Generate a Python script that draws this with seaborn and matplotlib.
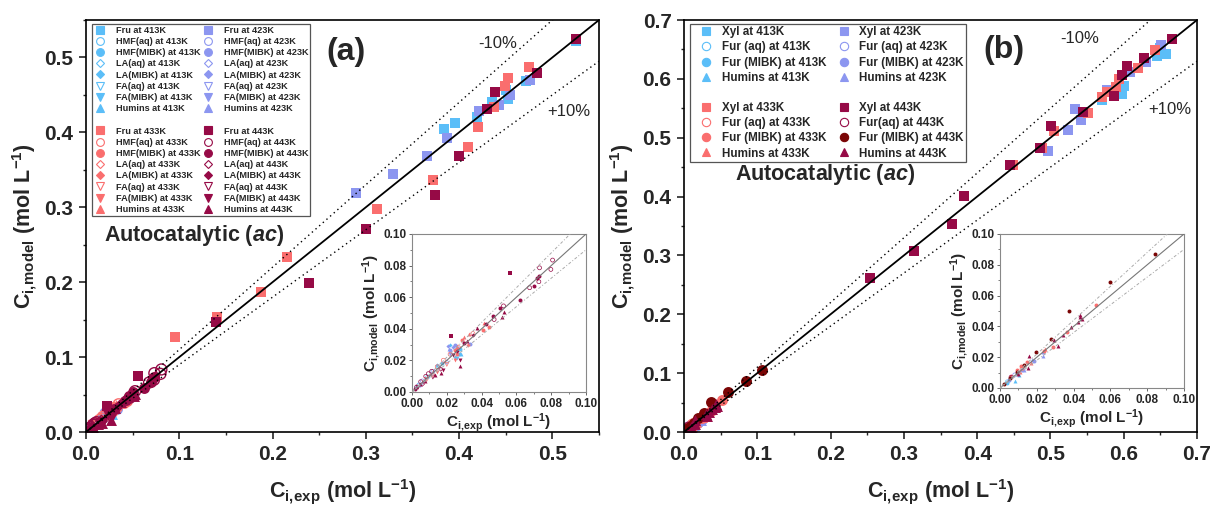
import numpy as np
import pandas as pd
import matplotlib
matplotlib.use("Agg")
import matplotlib.pyplot as plt
from matplotlib.lines import Line2D
from matplotlib.ticker import MultipleLocator, FormatStrFormatter
import seaborn as sns

# ---------------- data: (C_exp, C_model) pairs ----------------
TEMPS = ["413K", "423K", "433K", "443K"]
COLORS = {"413K": "#5BBEF8", "423K": "#8C96F0", "433K": "#FA6E6E", "443K": "#960A46"}
FUR_MIBK_443_COLOR = "#7A0505"

# Panel (a) - fructose system
a_fru_413 = [(0.525, 0.522), (0.472, 0.468), (0.452, 0.445), (0.450, 0.456), (0.435, 0.441),
             (0.419, 0.421), (0.384, 0.405), (0.396, 0.412)]
a_fru_423 = [(0.476, 0.470), (0.443, 0.436), (0.421, 0.428), (0.387, 0.392), (0.366, 0.369),
             (0.329, 0.345), (0.290, 0.319), (0.455, 0.450)]
a_fru_433 = [(0.475, 0.487), (0.452, 0.472), (0.449, 0.462), (0.437, 0.434), (0.420, 0.407),
             (0.410, 0.381), (0.372, 0.336), (0.312, 0.298), (0.216, 0.234), (0.188, 0.187),
             (0.140, 0.154), (0.095, 0.127)]
a_fru_443 = [(0.525, 0.525), (0.484, 0.479), (0.438, 0.454), (0.430, 0.431), (0.400, 0.369),
             (0.374, 0.317), (0.300, 0.271), (0.239, 0.199), (0.139, 0.147), (0.0562, 0.0751),
             (0.0223, 0.0353)]
a_hmfaq_413 = [(0.004, 0.0045), (0.009, 0.0095)]
a_hmfaq_423 = [(0.012, 0.013), (0.006, 0.007)]
a_hmfaq_433 = [(0.0219, 0.0239), (0.018, 0.0201), (0.035, 0.037), (0.0145, 0.016)]
a_hmfaq_443 = [(0.0808, 0.0835), (0.0798, 0.0776), (0.0733, 0.0786), (0.0729, 0.0698),
               (0.0676, 0.066), (0.0526, 0.0545), (0.0472, 0.0459), (0.0079, 0.0099),
               (0.0094, 0.0116), (0.0113, 0.0131), (0.0027, 0.0032), (0.005, 0.0065)]
a_hmfmibk_413 = [(0.0269, 0.0243), (0.0273, 0.0275), (0.0171, 0.0184)]
a_hmfmibk_423 = [(0.0334, 0.0302), (0.0248, 0.0300), (0.0219, 0.0264)]
a_hmfmibk_433 = [(0.041, 0.0391), (0.044, 0.0412), (0.0286, 0.0328), (0.0257, 0.0243),
                 (0.0248, 0.0264)]
a_hmfmibk_443 = [(0.0731, 0.0734), (0.0718, 0.0719), (0.0699, 0.067), (0.0622, 0.0581),
                 (0.0507, 0.0529), (0.0464, 0.048), (0.0426, 0.0429), (0.030, 0.031),
                 (0.002, 0.002)]
a_laaq_413 = [(0.015, 0.016)]
a_laaq_423 = [(0.020, 0.019)]
a_laaq_433 = [(0.0267, 0.0285), (0.012, 0.011)]
a_laaq_443 = [(0.0165, 0.0145), (0.006, 0.005)]
a_lamibk_413 = [(0.0219, 0.0296), (0.0248, 0.0222), (0.0142, 0.0169)]
a_lamibk_423 = [(0.0209, 0.0292), (0.0238, 0.0285)]
a_lamibk_433 = [(0.032, 0.030)]
a_lamibk_443 = [(0.035, 0.036), (0.026, 0.026)]
a_faaq_413 = [(0.0025, 0.002)]
a_faaq_423 = [(0.005, 0.0042)]
a_faaq_433 = [(0.0085, 0.008), (0.020, 0.0175)]
a_faaq_443 = [(0.0035, 0.003), (0.012, 0.0095)]
a_famibk_413 = [(0.026, 0.0215)]
a_famibk_423 = [(0.022, 0.024)]
a_famibk_433 = [(0.0248, 0.0201), (0.0142, 0.0127)]
a_famibk_443 = [(0.0276, 0.0201), (0.0238, 0.0233), (0.018, 0.014)]
a_hum_413 = [(0.0255, 0.028), (0.028, 0.024)]
a_hum_423 = [(0.0215, 0.0275), (0.026, 0.029)]
a_hum_433 = [(0.0415, 0.0438), (0.0326, 0.0366), (0.0296, 0.0349), (0.0257, 0.0285)]
a_hum_443 = [(0.0526, 0.0507), (0.0516, 0.0476), (0.0372, 0.0402), (0.0315, 0.0323),
             (0.0273, 0.0163), (0.0134, 0.0106), (0.0167, 0.012), (0.0075, 0.007),
             (0.0046, 0.0049)]

# Panel (b) - xylose system
b_xyl_413 = [(0.658, 0.643), (0.646, 0.639), (0.601, 0.588), (0.598, 0.575), (0.571, 0.564),
             (0.650, 0.652)]
b_xyl_423 = [(0.651, 0.657), (0.630, 0.629), (0.609, 0.611), (0.577, 0.581), (0.534, 0.548),
             (0.542, 0.530), (0.524, 0.513), (0.497, 0.478)]
b_xyl_433 = [(0.643, 0.649), (0.619, 0.618), (0.593, 0.599), (0.590, 0.586), (0.577, 0.578),
             (0.571, 0.570), (0.551, 0.542), (0.505, 0.512), (0.489, 0.482), (0.449, 0.453)]
b_xyl_443 = [(0.666, 0.667), (0.627, 0.636), (0.604, 0.621), (0.598, 0.607), (0.587, 0.571),
             (0.545, 0.543), (0.501, 0.520), (0.486, 0.483), (0.445, 0.453), (0.382, 0.401),
             (0.366, 0.354), (0.314, 0.308), (0.254, 0.262)]
b_furaq_413 = [(0.004, 0.004)]
b_furaq_423 = [(0.008, 0.0085)]
b_furaq_433 = [(0.012, 0.0125)]
b_furaq_443 = [(0.006, 0.007)]
b_furmibk_413 = [(0.010, 0.0095), (0.004, 0.0035)]
b_furmibk_423 = [(0.0185, 0.0175), (0.012, 0.0115), (0.005, 0.005)]
b_furmibk_433 = [(0.052, 0.0541), (0.0366, 0.0361), (0.0286, 0.0264), (0.0239, 0.0238),
                 (0.0145, 0.0169), (0.0116, 0.0141), (0.009, 0.0119), (0.006, 0.0075)]
b_furmibk_443 = [(0.106, 0.106), (0.0842, 0.0872), (0.0596, 0.0686), (0.0375, 0.0502),
                 (0.0275, 0.032), (0.0196, 0.0232), (0.013, 0.0152), (0.009, 0.0104),
                 (0.0054, 0.0065), (0.002, 0.0025)]
b_hum_413 = [(0.008, 0.0043), (0.0105, 0.0082)]
b_hum_423 = [(0.0232, 0.0206), (0.0172, 0.0184), (0.0235, 0.0235), (0.013, 0.0115)]
b_hum_433 = [(0.0246, 0.0255), (0.017, 0.0165), (0.011, 0.0105)]
b_hum_443 = [(0.0435, 0.0476), (0.0435, 0.0461), (0.0444, 0.045), (0.0426, 0.0426),
             (0.0384, 0.0394), (0.0344, 0.0346), (0.0317, 0.0271), (0.0295, 0.0314),
             (0.0156, 0.0206), (0.0154, 0.013), (0.010, 0.009)]

# species: (key, legend prefix, marker, filled)
A_SPECIES = [("fru", "Fru", "s", True), ("hmfaq", "HMF(aq)", "o", False),
             ("hmfmibk", "HMF(MIBK)", "o", True), ("laaq", "LA(aq)", "D", False),
             ("lamibk", "LA(MIBK)", "D", True), ("faaq", "FA(aq)", "v", False),
             ("famibk", "FA(MIBK)", "v", True), ("hum", "Humins", "^", True)]
B_SPECIES = [("xyl", "Xyl", "s", True), ("furaq", "Fur (aq)", "o", False),
             ("furmibk", "Fur (MIBK)", "o", True), ("hum", "Humins", "^", True)]

g = globals()
rows = []
for panel, species in (("a", A_SPECIES), ("b", B_SPECIES)):
    for key, _, _, _ in species:
        for t in TEMPS:
            for xe, ym in g[f"{panel}_{key}_{t[:3]}"]:
                rows.append((panel, key, t, xe, ym))
df = pd.DataFrame(rows, columns=["panel", "species", "temp", "exp", "model"])

# ---------------- style ----------------
sns.set_style("ticks")
plt.rcParams.update({
    "font.family": ["Liberation Sans", "DejaVu Sans"],
    "font.weight": "bold",
    "mathtext.fontset": "custom",
    "mathtext.rm": "Liberation Sans:bold",
    "mathtext.bf": "Liberation Sans:bold",
    "mathtext.it": "Liberation Sans:italic:bold",
    "mathtext.sf": "Liberation Sans:bold",
    "axes.linewidth": 1.2,
    "axes.edgecolor": "black",
    "xtick.direction": "out",
    "ytick.direction": "out",
})

W, H = 1211, 509
fig = plt.figure(figsize=(W / 100, H / 100), dpi=100)
fig.patch.set_facecolor("white")


def px_rect(l, r, t, b):
    return [l / W, (H - b) / H, (r - l) / W, (b - t) / H]


axA = fig.add_axes(px_rect(86, 599, 20, 432))
axB = fig.add_axes(px_rect(684, 1197, 20, 432))
insA = fig.add_axes(px_rect(412, 586, 234, 392))
insB = fig.add_axes(px_rect(1000, 1184, 234, 388))


def color_for(panel, key, t):
    if panel == "b" and key == "furmibk" and t == "443K":
        return FUR_MIBK_443_COLOR
    return COLORS[t]


def draw_points(ax, panel, species, scale, lw):
    for t in TEMPS:
        for key, _, marker, filled in species:
            sub = df[(df.panel == panel) & (df.species == key) & (df.temp == t)]
            if sub.empty:
                continue
            c = color_for(panel, key, t)
            base = {"s": 50, "o": 62, "D": 34, "v": 62, "^": 62}[marker]
            sns.scatterplot(data=sub, x="exp", y="model", ax=ax, marker=marker,
                            s=base * scale, color=c, edgecolor=c,
                            facecolor=(c if filled else "none"),
                            linewidth=(0 if filled else lw), legend=False, zorder=2)


XLAB = r"$\mathrm{C_{i,\!exp}}$ (mol L$^{-1}$)"
YLAB = r"$\mathrm{C_{i,\!model}}$ (mol L$^{-1}$)"


def style_main(ax, lim):
    ax.set_xlim(0, lim)
    ax.set_ylim(0, lim)
    ax.plot([0, lim], [0, lim], color="black", lw=1.3, zorder=3)
    ax.plot([0, lim], [0, 1.1 * lim], color="black", lw=1.0, ls=(0, (1, 2.5)), zorder=3)
    ax.plot([0, lim], [0, 0.9 * lim], color="black", lw=1.0, ls=(0, (1, 2.5)), zorder=3)
    ax.xaxis.set_major_locator(MultipleLocator(0.1))
    ax.yaxis.set_major_locator(MultipleLocator(0.1))
    ax.xaxis.set_minor_locator(MultipleLocator(0.05))
    ax.yaxis.set_minor_locator(MultipleLocator(0.05))
    ax.xaxis.set_major_formatter(FormatStrFormatter("%.1f"))
    ax.yaxis.set_major_formatter(FormatStrFormatter("%.1f"))
    ax.tick_params(which="major", length=5, width=1.2, labelsize=15, pad=4)
    ax.tick_params(which="minor", length=2.5, width=1.0)
    for lab in ax.get_xticklabels() + ax.get_yticklabels():
        lab.set_fontweight("bold")
    for s in ax.spines.values():
        s.set_visible(True)
        s.set_linewidth(1.2)
    ax.set_xlabel(XLAB, fontsize=15.5, fontweight="bold", labelpad=10)
    ax.set_ylabel(YLAB, fontsize=15.5, fontweight="bold", labelpad=4)


def style_inset(ax):
    ax.set_xlim(0, 0.1)
    ax.set_ylim(0, 0.1)
    ax.plot([0, 0.1], [0, 0.1], color="#777777", lw=0.8, zorder=3)
    ax.plot([0, 0.1], [0, 0.11], color="#aaaaaa", lw=0.7, ls=(0, (3, 2, 1, 2)), zorder=3)
    ax.plot([0, 0.1], [0, 0.09], color="#aaaaaa", lw=0.7, ls=(0, (3, 2, 1, 2)), zorder=3)
    ax.xaxis.set_major_locator(MultipleLocator(0.02))
    ax.yaxis.set_major_locator(MultipleLocator(0.02))
    ax.xaxis.set_minor_locator(MultipleLocator(0.01))
    ax.yaxis.set_minor_locator(MultipleLocator(0.01))
    ax.xaxis.set_major_formatter(FormatStrFormatter("%.2f"))
    ax.yaxis.set_major_formatter(FormatStrFormatter("%.2f"))
    ax.tick_params(which="major", length=2.5, width=0.7, labelsize=8.5, pad=1.5,
                   color="#666666")
    ax.tick_params(which="minor", length=1.3, width=0.6, color="#666666")
    for lab in ax.get_xticklabels() + ax.get_yticklabels():
        lab.set_fontweight("bold")
    for s in ax.spines.values():
        s.set_visible(True)
        s.set_linewidth(0.8)
        s.set_edgecolor("#888888")
    ax.set_xlabel(XLAB, fontsize=11, fontweight="bold", labelpad=1)
    ax.set_ylabel(YLAB, fontsize=11, fontweight="bold", labelpad=1)
    ax.set_facecolor("white")


draw_points(axA, "a", A_SPECIES, 1.0, 1.0)
draw_points(axB, "b", B_SPECIES, 1.0, 1.0)
draw_points(insA, "a", A_SPECIES, 0.13, 0.5)
draw_points(insB, "b", B_SPECIES, 0.13, 0.5)
style_main(axA, 0.55)
style_main(axB, 0.70)
style_inset(insA)
style_inset(insB)

# annotations
axA.text(0.507, 0.922, "(a)", transform=axA.transAxes, ha="center", va="center",
         fontsize=23, fontweight="bold")
axA.text(0.803, 0.944, "-10%", transform=axA.transAxes, ha="center", va="center",
         fontsize=12, fontweight="normal")
axA.text(0.941, 0.779, "+10%", transform=axA.transAxes, ha="center", va="center",
         fontsize=12, fontweight="normal")
axA.text(0.035, 0.477, r"Autocatalytic ($\mathit{ac}$)", transform=axA.transAxes,
         ha="left", va="center", fontsize=15.5, fontweight="bold")
axB.text(0.624, 0.927, "(b)", transform=axB.transAxes, ha="center", va="center",
         fontsize=23, fontweight="bold")
axB.text(0.772, 0.954, "-10%", transform=axB.transAxes, ha="center", va="center",
         fontsize=12, fontweight="normal")
axB.text(0.947, 0.782, "+10%", transform=axB.transAxes, ha="center", va="center",
         fontsize=12, fontweight="normal")
axB.text(0.099, 0.624, r"Autocatalytic ($\mathit{ac}$)", transform=axB.transAxes,
         ha="left", va="center", fontsize=15.5, fontweight="bold")


# legends
def legend_handles(panel, species, temps, ms):
    hs, ls = [], []
    for t in temps:
        for key, prefix, marker, filled in species:
            c = color_for(panel, key, t)
            m = ms * (0.8 if marker == "D" else 1.0)
            hs.append(Line2D([], [], linestyle="none", marker=marker, markersize=m,
                             markerfacecolor=(c if filled else "none"),
                             markeredgecolor=c, markeredgewidth=0.8))
            lab = f"{prefix} at {t}"
            if panel == "b" and key == "furaq" and t == "443K":
                lab = f"Fur(aq) at {t}"
            ls.append(lab)
    return hs, ls


blank = Line2D([], [], linestyle="none")


def build_legend(ax, panel, species, ms, fs, anchor, **kw):
    h1, l1 = legend_handles(panel, species, ["413K"], ms)
    h2, l2 = legend_handles(panel, species, ["423K"], ms)
    h3, l3 = legend_handles(panel, species, ["433K"], ms)
    h4, l4 = legend_handles(panel, species, ["443K"], ms)
    handles = h1 + [blank] + h3 + h2 + [blank] + h4
    labels = l1 + [""] + l3 + l2 + [""] + l4
    leg = ax.legend(handles, labels, ncol=2, loc="upper left",
                    bbox_to_anchor=(anchor[0] / W, 1 - anchor[1] / H),
                    bbox_transform=fig.transFigure, borderaxespad=0,
                    frameon=True, fancybox=False, framealpha=1,
                    edgecolor="#555555", prop={"weight": "bold", "size": fs}, **kw)
    leg.get_frame().set_linewidth(0.9)
    return leg


build_legend(axA, "a", A_SPECIES, 5.6, 6.6, (92, 24), labelspacing=0.24,
             handlelength=1.4, handletextpad=1.0, columnspacing=0.15, borderpad=0.2)
build_legend(axB, "b", B_SPECIES, 6.0, 8.4, (690, 24), labelspacing=0.27,
             handlelength=2.3, handletextpad=0.22, columnspacing=0.33, borderpad=0.2)

fig.savefig("out.png", dpi=100, facecolor="white")
